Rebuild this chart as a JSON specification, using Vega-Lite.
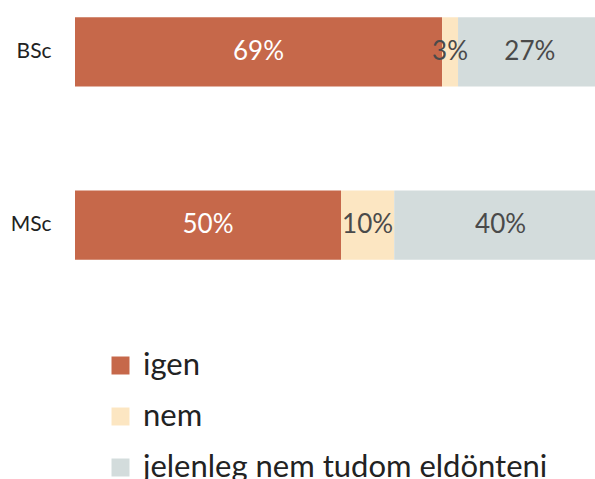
{
  "$schema": "https://vega.github.io/schema/vega-lite/v6.json",
  "width": 532,
  "height": 277,
  "autosize": {"type": "none"},
  "padding": {"left": 75, "top": 0, "right": 0, "bottom": 202},
  "background": "white",
  "config": {"view": {"stroke": null}},
  "data": {
    "values": [
      {"level": "BSc", "answer": "igen", "rank": 1, "value": 69, "label": "69%"},
      {"level": "BSc", "answer": "nem", "rank": 2, "value": 3, "label": "3%"},
      {"level": "BSc", "answer": "jelenleg nem tudom eldönteni", "rank": 3, "value": 27, "label": "27%"},
      {"level": "MSc", "answer": "igen", "rank": 1, "value": 50, "label": "50%"},
      {"level": "MSc", "answer": "nem", "rank": 2, "value": 10, "label": "10%"},
      {"level": "MSc", "answer": "jelenleg nem tudom eldönteni", "rank": 3, "value": 40, "label": "40%"}
    ]
  },
  "transform": [
    {"stack": "value", "groupby": ["level"], "as": ["s0", "s1"], "sort": [{"field": "rank", "order": "ascending"}]},
    {"calculate": "(datum.s0 + datum.s1) / 2", "as": "mid"}
  ],
  "encoding": {
    "y": {
      "field": "level",
      "type": "nominal",
      "sort": ["BSc", "MSc"],
      "scale": {"paddingInner": 0.6, "paddingOuter": 0.1},
      "axis": {
        "title": null,
        "domain": false,
        "ticks": false,
        "grid": false,
        "labelFont": "Lato",
        "labelFontSize": 21,
        "labelColor": "#222222",
        "labelPadding": 24
      }
    }
  },
  "layer": [
    {
      "mark": {"type": "bar"},
      "encoding": {
        "x": {"field": "s0", "type": "quantitative", "scale": {"domain": [0, 100]}, "axis": null},
        "x2": {"field": "s1"},
        "color": {
          "field": "answer",
          "type": "nominal",
          "scale": {
            "domain": ["igen", "nem", "jelenleg nem tudom eldönteni"],
            "range": ["#C6684A", "#FCE6C2", "#D3DCDC"]
          },
          "legend": {
            "title": null,
            "orient": "none",
            "legendX": 30,
            "legendY": 350,
            "direction": "vertical",
            "symbolType": "square",
            "symbolSize": 324,
            "symbolStrokeWidth": 0,
            "labelFont": "Lato",
            "labelFontSize": 31,
            "labelColor": "#222222",
            "labelOffset": 7,
            "rowPadding": 19,
            "labelLimit": 700
          }
        }
      }
    },
    {
      "mark": {"type": "text", "font": "Lato", "fontSize": 26, "baseline": "middle", "align": "center"},
      "encoding": {
        "x": {"field": "mid", "type": "quantitative"},
        "text": {"field": "label"},
        "color": {
          "condition": {"test": "datum.answer === 'igen'", "value": "#FFFFFF"},
          "value": "#4A4A4A"
        }
      }
    }
  ]
}
